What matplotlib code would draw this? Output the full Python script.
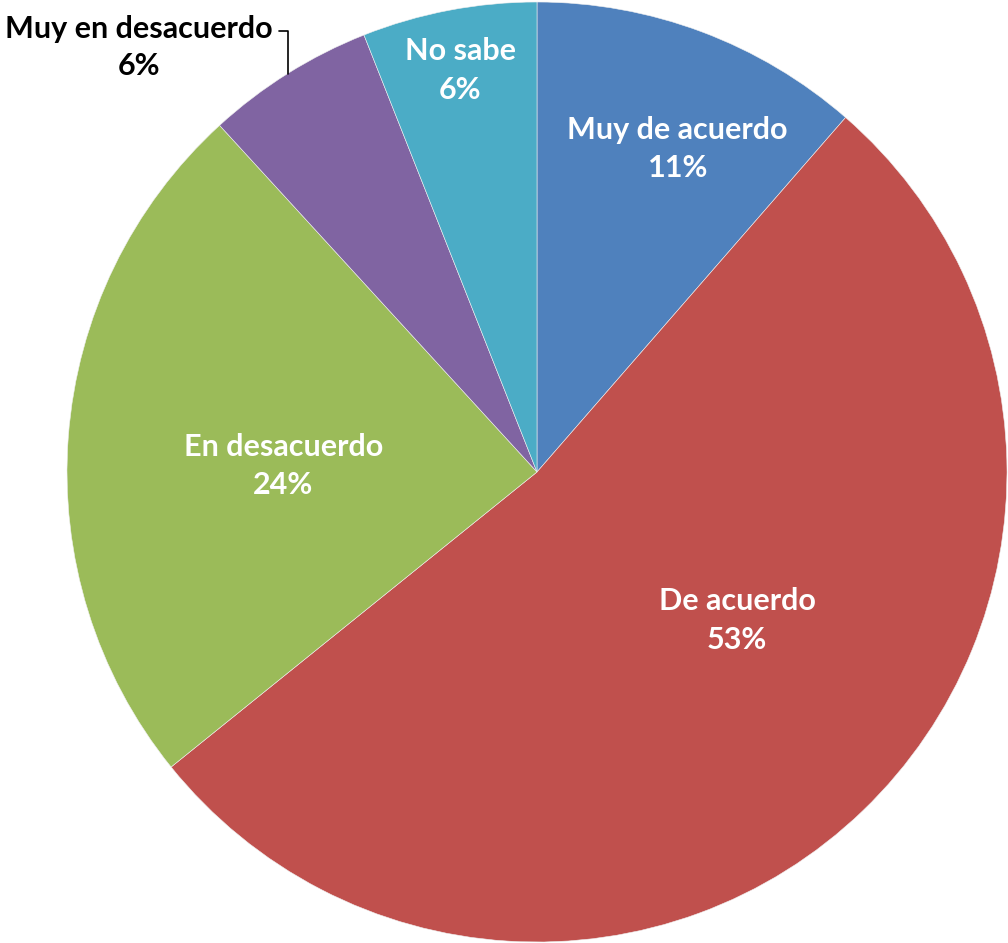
import numpy as np
import matplotlib
matplotlib.use('Agg')
from matplotlib import pyplot as plt

# valores (porcentajes)
categorias = ['Muy de acuerdo', 'De acuerdo', 'En desacuerdo', 'Muy en desacuerdo', 'No sabe']
valores = [11.4, 52.8, 24.0, 5.8, 6.0]
colores = ['#4F81BD', '#C0504D', '#9BBB59', '#8064A2', '#4BACC6']

# posicion de las etiquetas dentro de cada porcion
dist_etiqueta = [0.75, 0.53, 0.54, 0.0, 0.87]
giro_etiqueta = [-3, 9.5, 3, 0, 0]

plt.rcParams['font.family'] = ['Lato', 'DejaVu Sans']

fig = plt.figure(figsize=(10.08, 9.43), dpi=100)
W, H = 1008, 943
cx, cy, r = 537, 471, 470
ax = fig.add_axes([(cx - r) / W, (cy - r) / H, 2 * r / W, 2 * r / H])

wedges, _ = ax.pie(valores, colors=colores, startangle=90, counterclock=False,
                   radius=1, wedgeprops=dict(edgecolor='#f0f0f0', linewidth=0.4))
ax.set_xlim(-1, 1)
ax.set_ylim(-1, 1)
ax.set_aspect('equal')

for i, w in enumerate(wedges):
    txt = '%s\n%.0f%%' % (categorias[i], valores[i])
    mid = np.deg2rad((w.theta1 + w.theta2) / 2)
    if dist_etiqueta[i] > 0:
        a = mid + np.deg2rad(giro_etiqueta[i])
        d = dist_etiqueta[i]
        ax.text(d * np.cos(a), d * np.sin(a), txt, ha='center', va='center',
                color='white', fontsize=22, fontweight='bold', linespacing=1.45)
    else:
        # etiqueta fuera con linea guia
        ax.annotate(txt, xy=(np.cos(mid), np.sin(mid)), xytext=(-149, 26),
                    textcoords='offset pixels', ha='center', va='center',
                    color='black', fontsize=22, fontweight='bold', linespacing=1.4,
                    arrowprops=dict(arrowstyle='-', color='black', lw=1.2,
                                    relpos=(1.0, 0.76), shrinkA=3, shrinkB=0,
                                    connectionstyle='angle,angleA=0,angleB=90,rad=0'))

fig.savefig('out.png', dpi=100)
